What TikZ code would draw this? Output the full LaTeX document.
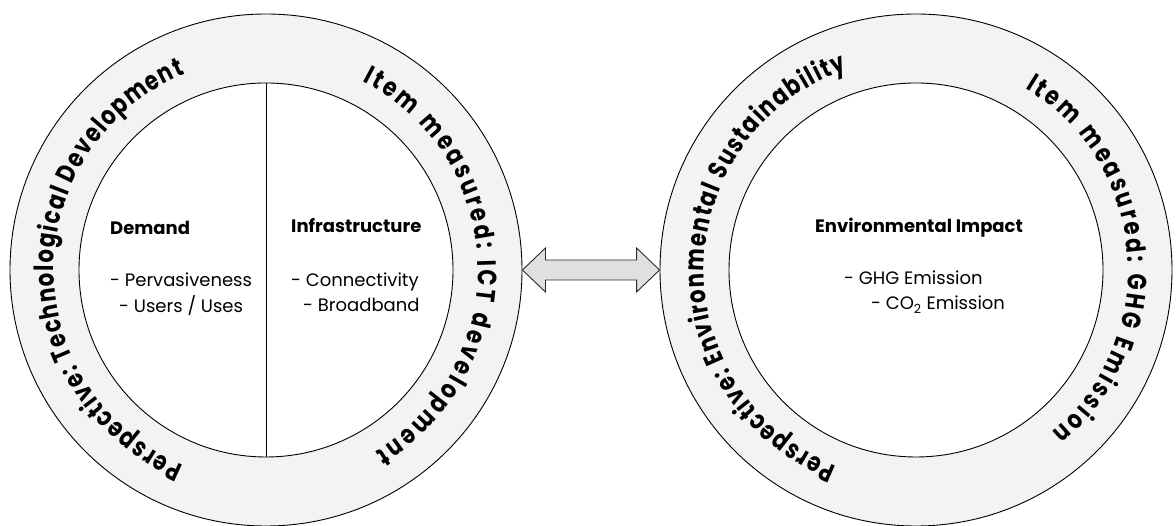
\documentclass[tikz,border=0pt]{standalone}
\usepackage{fontspec}
\setmainfont{Poppins}
\usetikzlibrary{decorations.text,calc}
\definecolor{ringgray}{HTML}{F3F3F3}
\definecolor{arrowgray}{HTML}{E0E0E0}
\definecolor{arrowline}{HTML}{2A2A2A}
\newfontfamily\ringfont[FakeStretch=0.8]{Poppins Bold}
\begin{document}
\begin{tikzpicture}[x=1pt,y=1pt,
  ring/.style={circle, draw=black, line width=0.9pt, fill=ringgray, minimum size=512, inner sep=0pt},
  core/.style={circle, draw=black, line width=0.9pt, fill=white, minimum size=374, inner sep=0pt},
  head/.style={font=\fontsize{18}{21}\selectfont\bfseries, inner sep=0pt, anchor=base west},
  item/.style={font=\fontsize{18}{21}\selectfont, inner sep=0pt, anchor=base west},
  bothway/.style={draw=arrowline, fill=arrowgray, line width=0.9pt, line join=miter},
  ringtext/.style={decorate, decoration={text along path, text align={fit to path}, text={|\fontsize{26.5}{30}\ringfont|#1}}}
]
\useasboundingbox (0,0) rectangle (1176,526);
% rings
\node[ring] (L) at (266,256) {};
\node[core] (Li) at (266,256) {};
\node[ring] (R) at (916,256) {};
\node[core] (Ri) at (916,256) {};
\draw[line width=0.9pt] (Li.north) -- (Li.south);
% curved labels
\path[ringtext={Perspective: Technological Development}] ([shift={(247:212)}]L.center) arc[start angle=247, end angle=112.5, radius=212];
\path[ringtext={Item measured:  ICT development}] ([shift={(63:212)}]L.center) arc[start angle=63, end angle=-59, radius=212];
\path[ringtext={Perspective: Environmental Sustainability}] ([shift={(248:212)}]R.center) arc[start angle=248, end angle=109, radius=212];
\path[ringtext={Item measured:  GHG Emission}] ([shift={(59:212)}]R.center) arc[start angle=59, end angle=-50, radius=212];
% inner texts
\node[head] (dem) at (110,291) {Demand};
\node[item] (per) at (110,239) {- Pervasiveness};
\node[item] (use) at (119,213) {- Users / Uses};
\node[head] (inf) at (291,293) {Infrastructure};
\node[item] (con) at (291,239) {- Connectivity};
\node[item] (bro) at (303,214) {- Broadband};
\node[head] (env) at (815,293) {Environmental Impact};
\node[item] (ghg) at (844,241) {- GHG Emission};
\node[item] (co2) at (871,216) {- CO\textsubscript{2} Emission};
% double arrow between the rings
\draw[bothway] (L.east) -- ($(L.east)+(23,22)$) -- ($(L.east)+(23,10)$) -- ($(R.west)+(-23,10)$) -- ($(R.west)+(-23,22)$) -- (R.west)
  -- ($(R.west)+(-23,-22)$) -- ($(R.west)+(-23,-10)$) -- ($(L.east)+(23,-10)$) -- ($(L.east)+(23,-22)$) -- cycle;
\end{tikzpicture}
\end{document}
